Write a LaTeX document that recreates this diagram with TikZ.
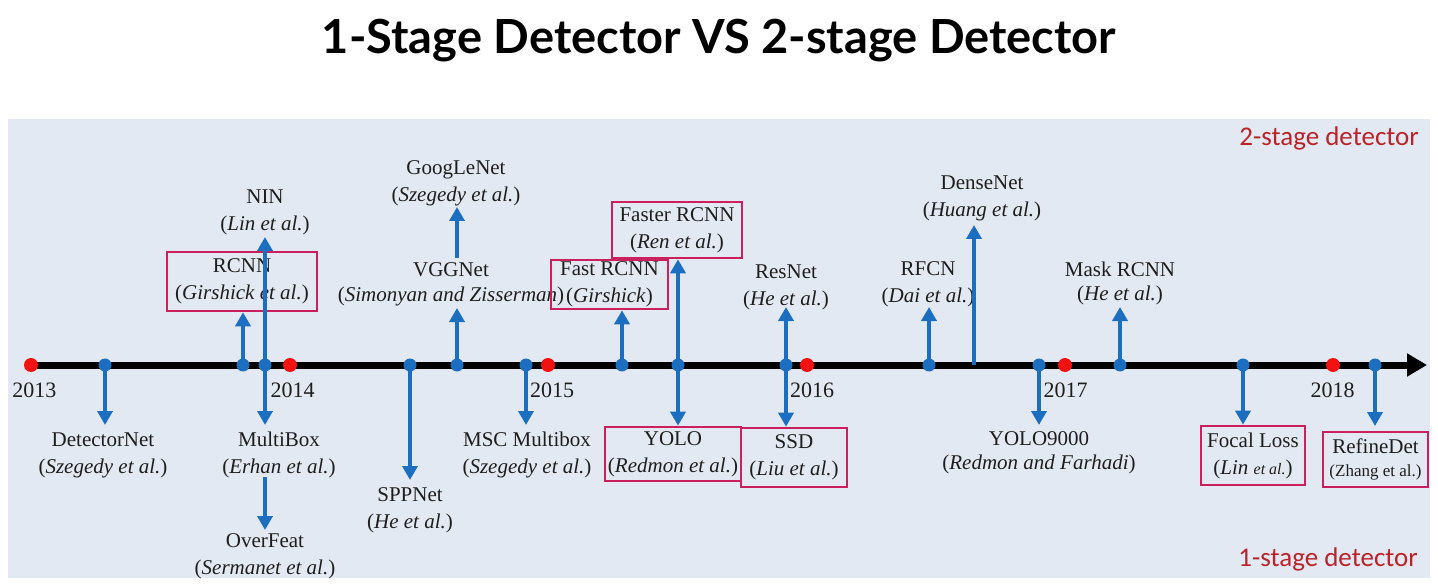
\documentclass[tikz,border=0pt]{standalone}
\usepackage{fontspec}
\setmainfont{Liberation Serif}
\newfontfamily\lserif{Liberation Serif}
\newfontfamily\titlefont{Lato}
\newfontfamily\calfont{Carlito}
\usetikzlibrary{arrows.meta}
\definecolor{panel}{HTML}{E3E9F2}
\definecolor{tblue}{HTML}{1C6FC0}
\definecolor{tred}{HTML}{F21212}
\definecolor{boxc}{HTML}{CC1F5E}
\definecolor{labred}{HTML}{BA2329}
\definecolor{txt}{HTML}{1E1E1E}
\tikzset{
  lbl/.style={align=center, text=txt, font=\lserif\fontsize{21}{27}\selectfont, inner sep=0pt},
  pbox/.style={draw=boxc, line width=2.6pt, inner sep=0pt, align=center, text=txt, font=\lserif\fontsize{21}{27}\selectfont},
  arr/.style={draw=tblue, line width=4pt, -{Triangle[length=14pt,width=15pt]}},
  bdot/.style={circle, fill=tblue, inner sep=0pt, minimum size=13pt},
  rdot/.style={circle, fill=tred, inner sep=0pt, minimum size=14pt},
  yr/.style={text=txt, font=\lserif\fontsize{22}{22}\selectfont, inner sep=0pt},
  stagelbl/.style={text=labred, font=\calfont\fontsize{27}{27}\selectfont, inner sep=0pt, anchor=east}
}
\begin{document}
\begin{tikzpicture}[x=1pt,y=-1pt]
\useasboundingbox (0,0) rectangle (1438,588);
\fill[white] (0,0) rectangle (1438,588);
\node[font=\titlefont\bfseries\fontsize{47}{47}\selectfont, inner sep=0pt, text=black] (title) at (719,41) {1-Stage Detector VS 2-stage Detector};
\fill[panel] (8,119) rectangle (1430,578);
\node[stagelbl] (two) at (1419,138) {2-stage detector};
\node[stagelbl] (one) at (1418,559) {1-stage detector};
% timeline
\coordinate (tlS) at (30,365);
\coordinate (tlE) at (1427,365);
\draw[line width=7pt, -{Triangle[length=20pt,width=22pt]}] (tlS) -- (tlE);
% years
\node[yr] (y13) at (34.5,390) {2013};
\node[yr] (y14) at (292.5,390) {2014};
\node[yr] (y15) at (552,390) {2015};
\node[yr] (y16) at (812,390) {2016};
\node[yr] (y17) at (1065.5,390) {2017};
\node[yr] (y18) at (1332.5,390) {2018};
% labels
\node[lbl] (lDet) at (103,455) {DetectorNet\\(\textit{Szegedy et al.})};
\node[lbl] (lNIN) at (265,212) {NIN\\(\textit{Lin et al.})};
\node[lbl] (lMB) at (279,455) {MultiBox\\(\textit{Erhan et al.})};
\node[lbl] (lOF) at (265,556) {OverFeat\\(\textit{Sermanet et al.})};
\node[lbl] (lSPP) at (410,510) {SPPNet\\(\textit{He et al.})};
\node[lbl, font=\lserif\fontsize{21}{25}\selectfont] (lVGG) at (451,284) {VGGNet\\(\textit{Simonyan and Zisserman})};
\node[lbl] (lGoog) at (456,183) {GoogLeNet\\(\textit{Szegedy et al.})};
\node[lbl] (lMSC) at (527,455) {MSC Multibox\\(\textit{Szegedy et al.})};
\node[lbl] (lRes) at (786,287) {ResNet\\(\textit{He et al.})};
\node[lbl] (lRFCN) at (928,284) {RFCN\\(\textit{Dai et al.})};
\node[lbl] (lDense) at (982,198) {DenseNet\\(\textit{Huang et al.})};
\node[lbl, font=\lserif\fontsize{21}{24}\selectfont] (lY9) at (1039,453) {YOLO9000\\(\textit{Redmon and Farhadi})};
\node[lbl, font=\lserif\fontsize{21}{24}\selectfont] (lMask) at (1120,283) {Mask RCNN\\(\textit{He et al.})};
% boxes
\node[pbox, minimum width=150pt, minimum height=59pt] (bRCNN) at (242,281.5) {RCNN\\(\textit{Girshick et al.})};
\node[pbox, minimum width=117pt, minimum height=49pt] (bFast) at (609.5,284.5) {Fast RCNN\\(\textit{Girshick})};
\node[pbox, minimum width=130pt, minimum height=56pt] (bFaster) at (677,230) {Faster RCNN\\(\textit{Ren et al.})};
\node[pbox, minimum width=136pt, minimum height=54pt] (bYOLO) at (673,454) {YOLO\\(\textit{Redmon et al.})};
\node[pbox, minimum width=106pt, minimum height=59pt] (bSSD) at (794,457.5) {SSD\\(\textit{Liu et al.})};
\node[pbox, minimum width=104pt, minimum height=59pt] (bFocal) at (1253,455.5) {Focal Loss\\(\textit{Lin} {\fontsize{16}{20}\selectfont\textit{et al.}})};
\node[pbox, minimum width=105pt, minimum height=55pt, font=\lserif\fontsize{21}{23}\selectfont] (bRef) at (1375.5,459.5) {RefineDet\\{\fontsize{17}{20}\selectfont(Zhang et al.)}};
% red year dots
\path
 (31,365) node[rdot] (r13) {}
 (290,365) node[rdot] (r14) {}
 (548,365) node[rdot] (r15) {}
 (807,365) node[rdot] (r16) {}
 (1065,365) node[rdot] (r17) {}
 (1333,365) node[rdot] (r18) {};
\coordinate (cDet) at (105,365);
\coordinate (cRC) at (243,365);
\coordinate (cNIN) at (265,365);
\coordinate (cSPP) at (410,365);
\coordinate (cVGG) at (457,365);
\coordinate (cMSC) at (526,365);
\coordinate (cFast) at (622,365);
\coordinate (cFaster) at (678,365);
\coordinate (cRes) at (786,365);
\coordinate (cRFCN) at (929,365);
\coordinate (cDense) at (974,365);
\coordinate (cY9) at (1039,365);
\coordinate (cMask) at (1120,365);
\coordinate (cFocal) at (1243,365);
\coordinate (cRef) at (1375,365);
% arrow tips
\coordinate (tDet) at (105,425);
\coordinate (tNIN) at (265,237);
\coordinate (tMB) at (265,425);
\coordinate (sOF) at (265,477);
\coordinate (tOF) at (265,530);
\coordinate (tSPP) at (410,480);
\coordinate (tVGG) at (457,308);
\coordinate (sGoog) at (457,258);
\coordinate (tGoog) at (457,207);
\coordinate (tMSC) at (526,425);
\coordinate (tRes) at (786,307);
\coordinate (tRFCN) at (929,307);
\coordinate (tDense) at (974,225);
\coordinate (tY9) at (1039,425);
\coordinate (tMask) at (1120,307);
\coordinate (tRef) at (1375,426);
% arrows
\draw[arr] (cDet) -- (tDet);
\draw[arr] (cRC) -- (cRC |- bRCNN.south);
\draw[arr] (cNIN) -- (tNIN);
\draw[arr] (cNIN) -- (tMB);
\draw[arr] (sOF) -- (tOF);
\draw[arr] (cSPP) -- (tSPP);
\draw[arr] (cVGG) -- (tVGG);
\draw[arr] (sGoog) -- (tGoog);
\draw[arr] (cMSC) -- (tMSC);
\draw[arr] (cFast) -- (cFast |- bFast.south);
\draw[arr] (cFaster) -- (cFaster |- bFaster.south);
\draw[arr] (cFaster) -- (cFaster |- bYOLO.north);
\draw[arr] (cRes) -- (tRes);
\draw[arr] (cRes) -- (cRes |- bSSD.north);
\draw[arr] (cRFCN) -- (tRFCN);
\draw[arr] (cDense) -- (tDense);
\draw[arr] (cY9) -- (tY9);
\draw[arr] (cMask) -- (tMask);
\draw[arr] (cFocal) -- (cFocal |- bFocal.north);
\draw[arr] (cRef) -- (tRef);
% blue dots on top
\foreach \c in {cDet,cRC,cNIN,cSPP,cVGG,cMSC,cFast,cFaster,cRes,cRFCN,cY9,cMask,cFocal,cRef}
  \node[bdot] at (\c) {};
\end{tikzpicture}
\end{document}
